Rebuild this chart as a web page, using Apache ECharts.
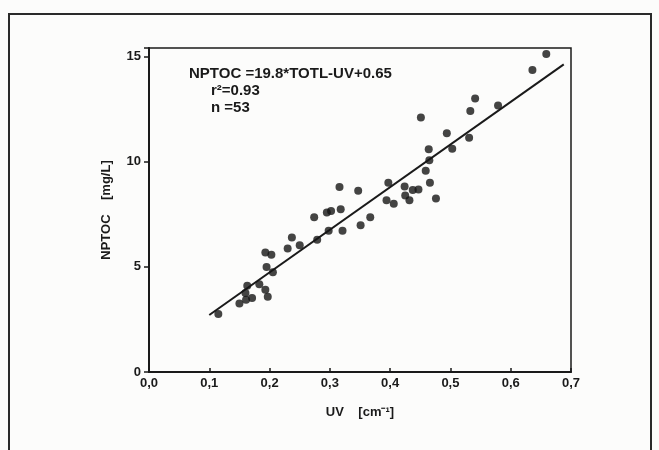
<!DOCTYPE html>
<html>
<head>
<meta charset="utf-8">
<script src="https://cdn.jsdelivr.net/npm/echarts@6/dist/echarts.min.js"></script>
<style>
  html, body { margin: 0; padding: 0; background: #fcfcfb; }
  #chart { width: 659px; height: 450px; }
</style>
</head>
<body>
<div id="chart"></div>
<script>
// UV absorbance (cm-1) vs NPTOC (mg/L)
var uvValues = [
  0.659, 0.636, 0.541, 0.533, 0.579, 0.451, 0.494, 0.531, 0.503, 0.464,
  0.465, 0.459, 0.397, 0.466, 0.424, 0.4375, 0.447, 0.425, 0.432, 0.476,
  0.394, 0.406, 0.316, 0.347, 0.318, 0.295, 0.302, 0.274, 0.367, 0.351,
  0.298, 0.321, 0.279, 0.237, 0.250, 0.230, 0.193, 0.203, 0.195, 0.2055,
  0.183, 0.163, 0.193, 0.160, 0.197, 0.171, 0.161, 0.150, 0.115
];
var nptocValues = [
  15.11, 14.35, 13.00, 12.40, 12.67, 12.10, 11.35, 11.13, 10.61, 10.59,
  10.06, 9.57, 8.99, 8.99, 8.82, 8.65, 8.68, 8.39, 8.16, 8.25,
  8.16, 8.00, 8.79, 8.61, 7.74, 7.58, 7.65, 7.35, 7.35, 6.97,
  6.71, 6.71, 6.29, 6.39, 6.02, 5.87, 5.68, 5.57, 4.99, 4.74,
  4.17, 4.10, 3.91, 3.75, 3.58, 3.52, 3.44, 3.26, 2.76
];
// fitted line end points as drawn
var fitUv = [0.100, 0.688];
var fitNptoc = [2.71, 14.62];

var annotation = ['NPTOC =19.8*TOTL-UV+0.65', 'r\u00b2=0.93', 'n =53'];
var xTitle = 'UV    [cm\u207b\u00b9]';
var yTitle = 'NPTOC    [mg/L]';

var font = '"Liberation Sans", Arial, sans-serif';
var ink = '#1a1a1a';

var points = uvValues.map(function (u, i) { return [u, nptocValues[i]]; });
var fitLine = fitUv.map(function (u, i) { return [u, fitNptoc[i]]; });

var chart = echarts.init(document.getElementById('chart'));
chart.setOption({
  animation: false,
  backgroundColor: '#fcfcfb',
  grid: {
    left: 149, right: 88, top: 48, bottom: 78,
    show: true,
    borderColor: ink,
    borderWidth: 1.5
  },
  xAxis: {
    type: 'value',
    min: 0, max: 0.7, interval: 0.1,
    name: xTitle,
    nameLocation: 'middle',
    nameGap: 34,
    nameTextStyle: { fontFamily: font, fontWeight: 'bold', fontSize: 13, color: ink },
    axisLine: { lineStyle: { color: ink, width: 2 } },
    axisTick: { inside: true, length: 4, lineStyle: { color: ink, width: 1.5 } },
    splitLine: { show: false },
    axisLabel: {
      fontFamily: font, fontWeight: 'bold', fontSize: 13, color: ink, margin: 5,
      formatter: function (v) { return v.toFixed(1).replace('.', ','); }
    }
  },
  yAxis: {
    type: 'value',
    min: 0, max: 15.4, interval: 5,
    name: yTitle,
    nameLocation: 'middle',
    nameGap: 36,
    nameTextStyle: { fontFamily: font, fontWeight: 'bold', fontSize: 13, color: ink },
    axisLine: { lineStyle: { color: ink, width: 2 } },
    axisTick: { length: 5, lineStyle: { color: ink, width: 1.5 } },
    splitLine: { show: false },
    axisLabel: {
      fontFamily: font, fontWeight: 'bold', fontSize: 13, color: ink, margin: 8,
      formatter: function (v) { return v % 5 === 0 ? String(v) : ''; }
    }
  },
  graphic: [
    {
      type: 'rect', silent: true,
      shape: { x: 9, y: 14, width: 642, height: 480 },
      style: { fill: 'none', stroke: '#2a2a2a', lineWidth: 2 }
    },
    {
      type: 'text', left: 189, top: 66, silent: true,
      style: { text: annotation[0], font: 'bold 15px ' + font, fill: ink }
    },
    {
      type: 'text', left: 211, top: 83, silent: true,
      style: { text: annotation[1], font: 'bold 15px ' + font, fill: ink }
    },
    {
      type: 'text', left: 211, top: 100, silent: true,
      style: { text: annotation[2], font: 'bold 15px ' + font, fill: ink }
    }
  ],
  series: [
    {
      type: 'line',
      data: fitLine,
      symbol: 'none',
      lineStyle: { color: ink, width: 2 },
      z: 2
    },
    {
      type: 'scatter',
      data: points,
      symbolSize: 8,
      itemStyle: { color: '#151515' },
      z: 3
    }
  ]
});
</script>
</body>
</html>
